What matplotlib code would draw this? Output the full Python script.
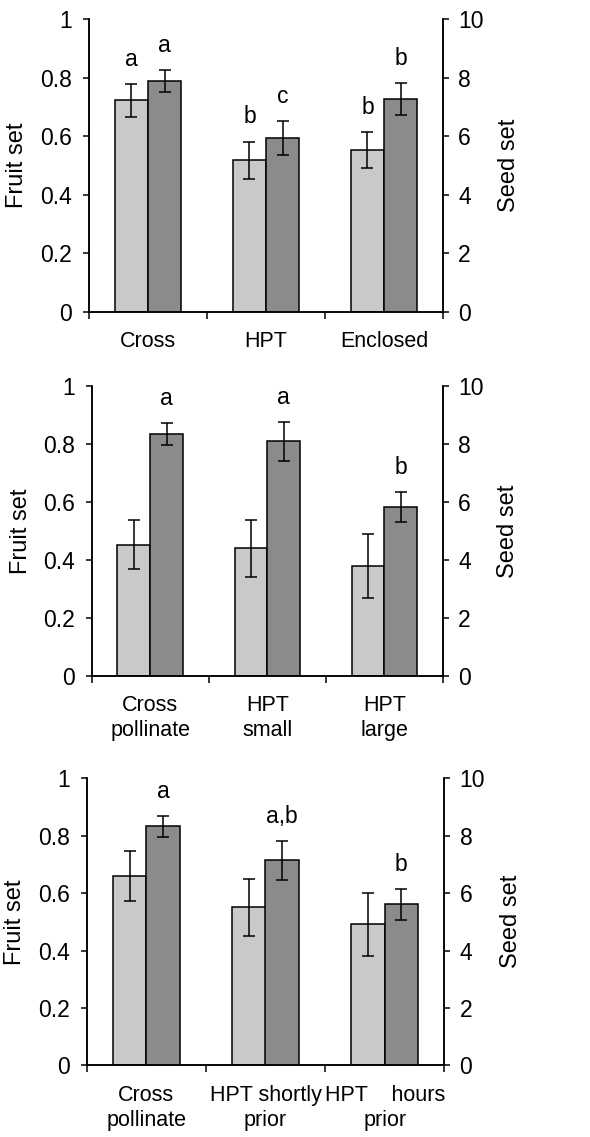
import numpy as np
import matplotlib.pyplot as plt

plt.rcParams['font.family'] = ['Liberation Sans', 'DejaVu Sans']

# panel 1
cats_1 = ['Cross', 'HPT', 'Enclosed']
fruit_1 = [0.723, 0.518, 0.553]
fruit_err_1 = [0.057, 0.064, 0.062]
seed_1 = [7.9, 5.95, 7.27]
seed_err_1 = [0.37, 0.58, 0.55]
letters_fruit_1 = ['a', 'b', 'b']
letters_seed_1 = ['a', 'c', 'b']

# panel 2
cats_2 = ['Cross\npollinate', 'HPT\nsmall', 'HPT\nlarge']
fruit_2 = [0.452, 0.44, 0.379]
fruit_err_2 = [0.085, 0.098, 0.111]
seed_2 = [8.34, 8.08, 5.82]
seed_err_2 = [0.37, 0.67, 0.53]
letters_fruit_2 = ['', '', '']
letters_seed_2 = ['a', 'a', 'b']

# panel 3
cats_3 = ['Cross\npollinate', 'HPT shortly\nprior', 'HPT    hours\nprior']
fruit_3 = [0.66, 0.55, 0.491]
fruit_err_3 = [0.088, 0.10, 0.109]
seed_3 = [8.33, 7.15, 5.61]
seed_err_3 = [0.37, 0.68, 0.54]
letters_fruit_3 = ['', '', '']
letters_seed_3 = ['a', 'a,b', 'b']

light = '#c9c9c9'
dark = '#8b8b8b'

fig = plt.figure(figsize=(5.9, 11.37), dpi=100)

# axes rectangles in pixels: left, right, top, bottom
boxes = [(89, 443, 19.3, 312), (91.7, 443, 385.7, 676), (86.7, 444.3, 778.3, 1065.3)]
panels = [
    (cats_1, fruit_1, fruit_err_1, seed_1, seed_err_1, letters_fruit_1, letters_seed_1),
    (cats_2, fruit_2, fruit_err_2, seed_2, seed_err_2, letters_fruit_2, letters_seed_2),
    (cats_3, fruit_3, fruit_err_3, seed_3, seed_err_3, letters_fruit_3, letters_seed_3),
]

W, H = 590, 1137
w = 0.28
for (l, r, t, b), (cats, fr, fre, sd, sde, lf, ls) in zip(boxes, panels):
    ax = fig.add_axes([l / W, 1 - b / H, (r - l) / W, (b - t) / H])
    ax2 = ax.twinx()
    x = np.arange(len(cats)) + 0.5
    ax.bar(x - w / 2, fr, w, color=light, edgecolor='black', linewidth=1.1, zorder=2)
    ax.errorbar(x - w / 2, fr, yerr=fre, fmt='none', ecolor='black', elinewidth=1.1,
                capsize=4.3, capthick=1.1, zorder=3)
    ax2.bar(x + w / 2, sd, w, color=dark, edgecolor='black', linewidth=1.1, zorder=2)
    ax2.errorbar(x + w / 2, sd, yerr=sde, fmt='none', ecolor='black', elinewidth=1.1,
                 capsize=4.3, capthick=1.1, zorder=3)
    for xi, v, e, s in zip(x, fr, fre, lf):
        if s:
            ax.text(xi - w / 2, v + e + 0.045, s, ha='center', va='bottom', fontsize=16.5)
    for xi, v, e, s in zip(x, sd, sde, ls):
        if s:
            ax2.text(xi + w / 2, v + e + 0.45, s, ha='center', va='bottom', fontsize=16.5)

    ax.set_xlim(0, 3)
    ax.set_ylim(0, 1)
    ax2.set_ylim(0, 10)
    ax.set_yticks([0, 0.2, 0.4, 0.6, 0.8, 1])
    ax.set_yticklabels(['0', '0.2', '0.4', '0.6', '0.8', '1'])
    ax2.set_yticks([0, 2, 4, 6, 8, 10])
    ax.set_xticks([0, 1, 2, 3])
    ax.set_xticklabels([])
    ax.set_xticks(x, minor=True)
    ax.set_xticklabels(cats, minor=True, fontsize=15.5, linespacing=1.25)
    ax.tick_params(axis='x', which='minor', length=0, pad=14)
    ax.tick_params(axis='x', which='major', length=5, width=1.1, direction='out')
    ax.tick_params(axis='y', length=4, width=1.1, labelsize=16.5, pad=8)
    ax2.tick_params(axis='y', length=4, width=1.1, labelsize=16.5, pad=7)
    for a in (ax, ax2):
        a.spines['top'].set_visible(False)
        for s in ('left', 'right', 'bottom'):
            a.spines[s].set_linewidth(1.1)
    ax.set_ylabel('Fruit set', fontsize=17)
    ax2.set_ylabel('Seed set', fontsize=17)
    ax.yaxis.set_label_coords(-0.171, 0.5)
    ax2.yaxis.set_label_coords(1.155, 0.5)

fig.savefig('out.png', dpi=100)
